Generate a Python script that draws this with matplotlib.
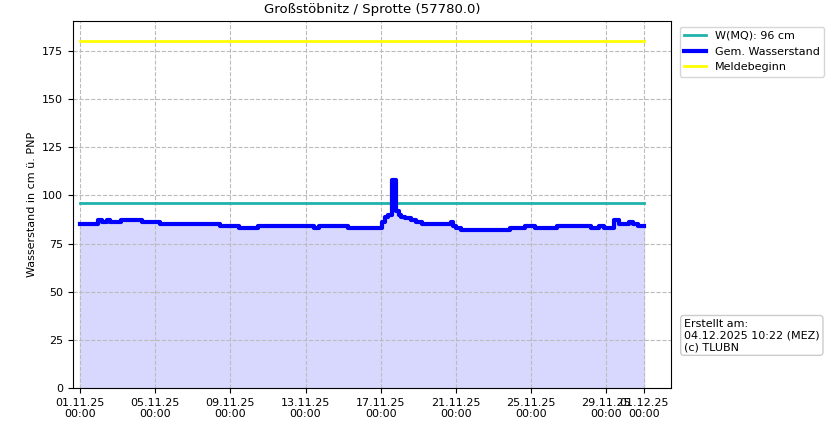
import matplotlib
matplotlib.use("Agg")
import matplotlib.pyplot as plt
import numpy as np
import datetime as dt
import matplotlib.dates as mdates

start = dt.datetime(2025, 11, 1)
day_offsets = [0, 0.95, 1.16, 1.43, 1.58, 2.17, 3.3, 4.27, 7.45, 8.47, 9.49, 12.43, 12.74, 14.26,
               16.09, 16.2, 16.4, 16.6, 16.8, 16.96, 17.1, 17.3, 17.6, 17.9, 18.2, 19.74, 19.85, 20.0,
               20.25, 22.9, 23.7, 24.2, 25.4, 27.2, 27.6, 27.9, 28.3, 28.4, 28.7, 29.2, 29.4, 29.7, 30.0]
levels = [85, 87, 86, 87, 86, 87, 86, 85, 84, 83, 84, 83, 84, 83,
          86, 89, 90, 108, 92, 90, 89, 88, 87, 86, 85, 86, 84, 83,
          82, 83, 84, 83, 84, 83, 84, 83, 83, 87, 85, 86, 85, 84, 84]
mq_value = 96
melde_value = 180
tick_days = [0, 4, 8, 12, 16, 20, 24, 28, 30]

times = [start + dt.timedelta(days=d) for d in day_offsets]
fig = plt.figure(figsize=(8.29, 4.26), dpi=100)
ax = fig.add_axes([73/829, 38/426, 598/829, 367/426])
t0, t1 = times[0], times[-1]
ax.plot([t0, t1], [mq_value]*2, color="#20b2aa", lw=2, label="W(MQ): 96 cm")
ax.step(times, levels, where="post", color="blue", lw=3, label="Gem. Wasserstand")
ax.fill_between(times, levels, step="post", color="#d8d8ff", zorder=0)
ax.plot([t0, t1], [melde_value]*2, color="yellow", lw=2, label="Meldebeginn")
ax.set_ylim(0, 190.5)
ax.set_xlim(start - dt.timedelta(days=0.37), start + dt.timedelta(days=31.44))
ax.set_xticks([start + dt.timedelta(days=d) for d in tick_days])
ax.xaxis.set_major_formatter(mdates.DateFormatter("%d.%m.%y\n%H:%M"))
ax.set_yticks(range(0, 176, 25))
ax.grid(True, ls="--", color="#bbbbbb")
ax.set_axisbelow(True)
ax.tick_params(labelsize=8)
ax.set_ylabel("Wasserstand in cm ü. PNP", fontsize=8)
ax.set_title("Großstöbnitz / Sprotte (57780.0)", fontsize=9.5)
ax.legend(loc="upper left", bbox_to_anchor=(1.005, 1.0), fontsize=8)
fig.text(684/829, 1-352/426, "Erstellt am:\n04.12.2025 10:22 (MEZ)\n(c) TLUBN", fontsize=8,
         va="bottom", bbox=dict(boxstyle="round,pad=0.3", fc="white", ec="#cccccc"))
fig.savefig("out.png", dpi=100)
